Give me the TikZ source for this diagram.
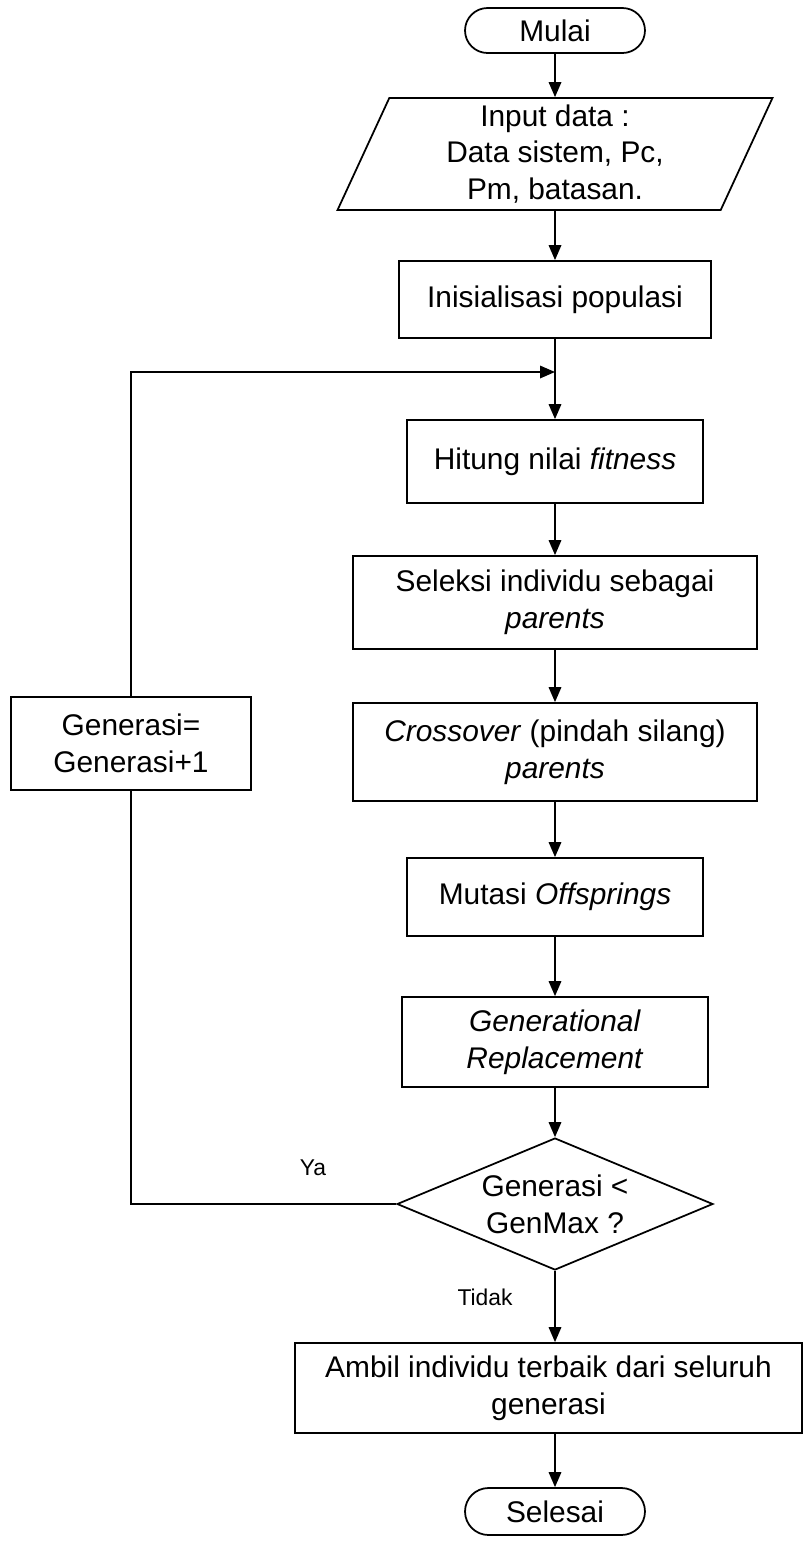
\documentclass[tikz,border=0pt]{standalone}
\usepackage{fontspec}
\setmainfont{Liberation Sans}
\usetikzlibrary{shapes.geometric,arrows.meta}
\tikzset{
	box/.style={draw, rectangle, align=center, inner sep=2pt},
	term/.style={draw, rectangle, rounded corners=0.45cm, minimum width=3.6cm, minimum height=0.9cm},
	io/.style={draw, trapezium, trapezium left angle=65, trapezium right angle=115, trapezium stretches body, align=center, minimum width=8.7cm, minimum height=2.24cm},
	cond/.style={draw, diamond, aspect=2.4, align=center, minimum width=6.32cm, minimum height=2.64cm, inner sep=0pt},
	arr/.style={-{Triangle[length=0.3cm,width=0.25cm]}}
}
\begin{document}
\begin{tikzpicture}[x=0.02cm, y=-0.02cm, line width=1pt, font=\fontsize{17}{21}\selectfont]
	\useasboundingbox (0,0) rectangle (804,1542);
	% main column, px coordinates (y down)
	\node[term] (mulai) at (555,30.5) {Mulai};
	\node[io] (inp) at (555,154) {Input data :\\Data sistem, Pc,\\Pm, batasan.};
	\node[box, minimum width=6.24cm, minimum height=1.54cm] (init) at (555,299.5) {Inisialisasi populasi};
	\node[box, minimum width=5.92cm, minimum height=1.66cm] (fit) at (555,461.5) {Hitung nilai \textit{fitness}};
	\node[box, minimum width=8.08cm, minimum height=1.86cm] (sel) at (555,602.5) {Seleksi individu sebagai\\\textit{parents}};
	\node[box, minimum width=8.08cm, minimum height=1.96cm] (cross) at (555,752) {\textit{Crossover} (pindah silang)\\\textit{parents}};
	\node[box, minimum width=5.92cm, minimum height=1.56cm] (mut) at (555,897) {Mutasi \textit{Offsprings}};
	\node[box, minimum width=6.12cm, minimum height=1.8cm] (rep) at (555,1042) {\textit{Generational}\\\textit{Replacement}};
	\node[cond] (cek) at (555,1204) {Generasi <\\GenMax ?};
	\node[box, minimum width=10.14cm, minimum height=1.8cm] (ambil) at (548.5,1388) {Ambil individu terbaik dari seluruh\\generasi};
	\node[term, minimum height=0.94cm, rounded corners=0.47cm] (selesai) at (555,1511.5) {Selesai};
	% loop
	\node[box, minimum width=4.8cm, minimum height=1.86cm] (gen) at (131,743.5) {Generasi=\\Generasi+1};
	\coordinate (j) at (555,372);
	\node (ya) at (313,1168) {\fontsize{13}{15}\selectfont Ya};
	\node (tidak) at (485,1297) {\fontsize{13}{15}\selectfont Tidak};

	\draw[arr] (mulai) -- (inp);
	\draw[arr] (inp) -- (init);
	\draw[arr] (init) -- (fit);
	\draw[arr] (fit) -- (sel);
	\draw[arr] (sel) -- (cross);
	\draw[arr] (cross) -- (mut);
	\draw[arr] (mut) -- (rep);
	\draw[arr] (rep) -- (cek);
	\draw[arr] (cek.south) -- (cek.south |- ambil.north);
	\draw[arr] (ambil.south -| selesai.north) -- (selesai.north);
	\draw (cek.west) -| (gen.south);
	\draw[arr] (gen.north) |- (j);
\end{tikzpicture}
\end{document}
